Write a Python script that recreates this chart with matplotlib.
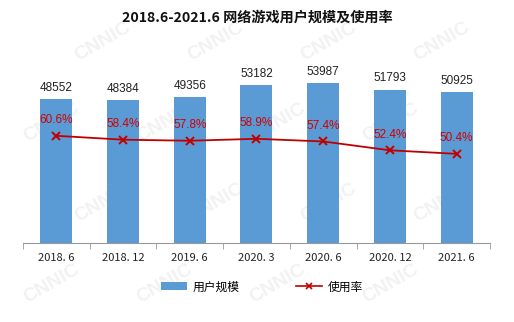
import matplotlib
matplotlib.use("Agg")
import matplotlib.pyplot as plt
from matplotlib.lines import Line2D
from matplotlib.patches import Patch

plt.rcParams['font.family'] = ['Noto Sans CJK SC', 'DejaVu Sans']

# data
periods = ["2018. 6", "2018. 12", "2019. 6", "2020. 3", "2020. 6", "2020. 12", "2021. 6"]
users = [48552, 48384, 49356, 53182, 53987, 51793, 50925]
usage_rate = [60.6, 58.4, 57.8, 58.9, 57.4, 52.4, 50.4]

BAR_BLUE = "#5B9BD5"
LINE_RED = "#C00000"
LABEL_RED = "#D00000"

fig = plt.figure(figsize=(5.14, 3.22), dpi=100)

# faint CNNIC watermark behind everything
bg = fig.add_axes([0, 0, 1, 1], zorder=-5)
bg.axis("off")
for row in range(4):
    for col in range(4):
        fx = 0.10 + col * 0.22 + (row % 2) * 0.10
        fy = 0.12 + row * 0.25
        bg.text(fx, fy, "CNNIC", color="#f2f2f2", fontsize=14, fontweight="bold",
                rotation=30, ha="center", va="center",
                family=["Liberation Sans", "DejaVu Sans"])

ax = fig.add_axes([0.0447, 0.2453, 0.9086, 0.5522])
ax.patch.set_alpha(0)
x = list(range(len(periods)))
ax.bar(x, users, width=0.48, color=BAR_BLUE, zorder=2)
ax.set_xlim(-0.5, len(periods) - 0.5)
ax.set_ylim(0, 60000)
for xi, v in zip(x, users):
    ax.text(xi, v + 1700, str(v), ha="center", va="bottom", fontsize=8.5,
            color="#222222", family=["Liberation Sans", "DejaVu Sans"])

for s in ["top", "left", "right"]:
    ax.spines[s].set_visible(False)
ax.spines["bottom"].set_color("#999999")
ax.set_yticks([])
ax.set_xticks(x)
ax.set_xticklabels(periods, fontsize=8, color="#222222")
ax.tick_params(axis="x", which="major", length=0, pad=7)
ax.set_xticks([i - 0.5 for i in range(len(periods) + 1)], minor=True)
ax.tick_params(axis="x", which="minor", length=4, color="#999999")

ax2 = ax.twinx()
ax2.set_ylim(0, 100.5)
ax2.plot(x, usage_rate, color=LINE_RED, lw=1.3, marker="x", ms=6, mew=1.4, zorder=3)
for xi, v in zip(x, usage_rate):
    ax2.text(xi, v + 5.5, f"{v}%", ha="center", va="bottom", fontsize=8.5,
             color=LABEL_RED, family=["Liberation Sans", "DejaVu Sans"])
ax2.axis("off")

fig.text(0.5, 0.945, "2018.6-2021.6 网络游戏用户规模及使用率", ha="center", va="center",
         fontsize=10.2, fontweight="bold", color="#111111")

handles = [Patch(facecolor=BAR_BLUE, edgecolor="none"),
           Line2D([0], [0], color=LINE_RED, lw=1.2, marker="x", ms=5, mew=1.2)]
fig.legend(handles, ["用户规模", "使用率"], loc="center", bbox_to_anchor=(0.51, 0.109),
           ncol=2, frameon=False, fontsize=8.5, handlelength=2.2, handleheight=0.6,
           columnspacing=4.8, handletextpad=0.5)

fig.savefig("out.png", dpi=100)
